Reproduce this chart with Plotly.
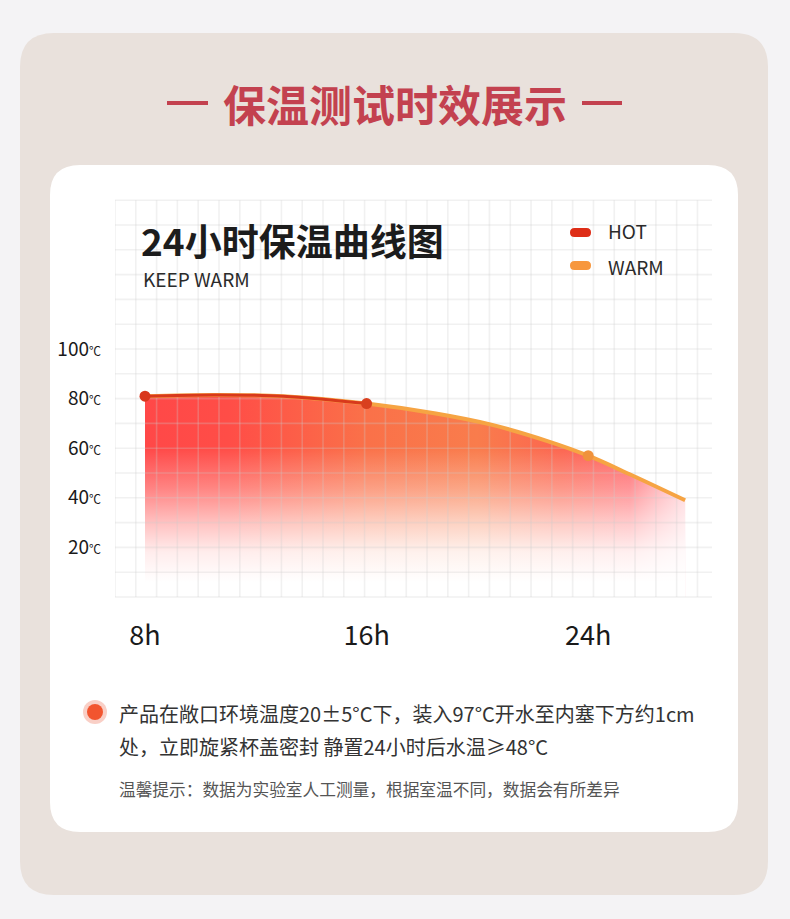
import plotly.graph_objects as go

# ---------------- data ----------------
hours = [8, 10.5, 13, 16, 18.5, 20.5, 22.5, 24, 25.5, 27.5]
temps = [81, 81.5, 81, 78, 74, 69.5, 63, 57, 49.5, 39]
hot_hours = [8, 10.5, 13, 16]
hot_temps = [81, 81.5, 81, 78]
marker_hours = [8, 16, 24]
marker_temps = [81, 78, 57]
marker_colors = ['#d9381e', '#d9401f', '#f0923c']
x_tick_vals = [8, 16, 24]
x_tick_text = ['8h', '16h', '24h']
y_tick_vals = [20, 40, 60, 80, 100]
y_tick_text = [f"{v}<span style='font-size:12px'>℃</span>" for v in y_tick_vals]

# ---------------- page geometry ----------------
W, H = 790, 919
FONT = "Noto Sans CJK SC, Noto Sans, sans-serif"


def px(x):
    return x / W


def py(y):
    return 1 - y / H


X_RANGE = [6.917, 28.47]
Y_RANGE = [-1.2, 162.1]

fig = go.Figure()

# base fill: horizontal colour variation
fig.add_trace(go.Scatter(
    x=hours, y=temps, mode='lines',
    line=dict(shape='spline', width=0, color='rgba(0,0,0,0)'),
    fill='tozeroy',
    fillgradient=dict(type='horizontal', start=8, stop=27.5, colorscale=[
        [0.0, '#ff4848'],
        [0.154, '#ff4d47'],
        [0.41, '#fa7149'],
        [0.615, '#f97c4c'],
        [0.77, '#fc6650'],
        [0.897, 'rgba(255,85,90,0.92)'],
        [1.0, 'rgba(255,120,135,0.4)'],
    ]),
    hoverinfo='skip', showlegend=False))

# white vertical fade over the fill
fig.add_trace(go.Scatter(
    x=hours, y=temps, mode='lines',
    line=dict(shape='spline', width=0, color='rgba(0,0,0,0)'),
    fill='tozeroy',
    fillgradient=dict(type='vertical', start=0, stop=82, colorscale=[
        [0.0, 'rgba(255,255,255,1)'],
        [6 / 82, 'rgba(255,255,255,1)'],
        [18 / 82, 'rgba(255,255,255,0.9)'],
        [30 / 82, 'rgba(255,255,255,0.66)'],
        [44 / 82, 'rgba(255,255,255,0.32)'],
        [60 / 82, 'rgba(255,255,255,0)'],
        [1.0, 'rgba(255,255,255,0)'],
    ]),
    hoverinfo='skip', showlegend=False))

# grid drawn as a trace so it shows over the fill
gx, gy = [], []
k = 0
while True:
    xv = 6.917 + 0.751 * k
    if xv > X_RANGE[1]:
        break
    gx += [xv, xv, None]
    gy += [0, 160, None]
    k += 1
for t in range(0, 161, 10):
    gx += [X_RANGE[0], X_RANGE[1], None]
    gy += [t, t, None]
fig.add_trace(go.Scatter(
    x=gx, y=gy, mode='lines',
    line=dict(color='rgba(205,205,205,0.28)', width=1.6),
    hoverinfo='skip', showlegend=False))

# lines
fig.add_trace(go.Scatter(
    x=hours, y=temps, mode='lines', name='WARM',
    line=dict(shape='spline', width=4, color='#f6a443'),
    showlegend=False))
fig.add_trace(go.Scatter(
    x=hot_hours, y=hot_temps, mode='lines', name='HOT',
    line=dict(shape='spline', width=3, color='#d8391c'),
    showlegend=False))
fig.add_trace(go.Scatter(
    x=marker_hours, y=marker_temps, mode='markers',
    marker=dict(size=11, color=marker_colors),
    showlegend=False))


def rrect(x0, y0, x1, y1, r):
    rx, ry = r / W, r / H
    X0, X1 = px(x0), px(x1)
    Y0, Y1 = py(y0), py(y1)  # Y0 top, Y1 bottom
    return (f"M{X0 + rx},{Y0} L{X1 - rx},{Y0} Q{X1},{Y0} {X1},{Y0 - ry} "
            f"L{X1},{Y1 + ry} Q{X1},{Y1} {X1 - rx},{Y1} "
            f"L{X0 + rx},{Y1} Q{X0},{Y1} {X0},{Y1 + ry} "
            f"L{X0},{Y0 - ry} Q{X0},{Y0} {X0 + rx},{Y0} Z")


shapes = [
    dict(type='path', path=rrect(20, 33, 768, 895, 34), xref='paper', yref='paper',
         fillcolor='#e9e1dc', line=dict(width=0), layer='below'),
    dict(type='path', path=rrect(50, 165, 738, 832, 30), xref='paper', yref='paper',
         fillcolor='#ffffff', line=dict(width=0), layer='below'),
    # title dashes
    dict(type='line', xref='paper', yref='paper', x0=px(167), x1=px(208), y0=py(103), y1=py(103),
         line=dict(color='#c3414f', width=4)),
    dict(type='line', xref='paper', yref='paper', x0=px(582), x1=px(622), y0=py(103), y1=py(103),
         line=dict(color='#c3414f', width=4)),
    # legend pills
    dict(type='path', path=rrect(570, 228, 591, 237, 4.5), xref='paper', yref='paper',
         fillcolor='#de2d17', line=dict(width=0)),
    dict(type='path', path=rrect(570, 261, 591, 270, 4.5), xref='paper', yref='paper',
         fillcolor='#f7973d', line=dict(width=0)),
    # bullet
    dict(type='circle', xref='paper', yref='paper', x0=px(83), x1=px(107), y0=py(724), y1=py(700),
         fillcolor='#f9cfc6', line=dict(width=0)),
    dict(type='circle', xref='paper', yref='paper', x0=px(87), x1=px(103), y0=py(720), y1=py(704),
         fillcolor='#f2552f', line=dict(width=0)),
]

annotations = [
    dict(text='<b>保温测试时效展示</b>', x=px(395), y=py(103), xanchor='center', yanchor='middle',
         font=dict(size=43, color='#c3414f', family=FONT)),
    dict(text='<b>24小时保温曲线图</b>', x=px(139), y=py(240), xanchor='left', yanchor='middle',
         font=dict(size=37, color='#1c1c1c', family=FONT)),
    dict(text='KEEP WARM', x=px(141), y=py(278), xanchor='left', yanchor='middle',
         font=dict(size=19, color='#2a2a2a', family=FONT)),
    dict(text='HOT', x=px(606), y=py(231), xanchor='left', yanchor='middle',
         font=dict(size=19, color='#2a2a2a', family=FONT)),
    dict(text='WARM', x=px(606), y=py(266), xanchor='left', yanchor='middle',
         font=dict(size=19, color='#2a2a2a', family=FONT)),
    dict(text='产品在敞口环境温度20±5°C下，装入97°C开水至内塞下方约1cm', x=px(117), y=py(713),
         xanchor='left', yanchor='middle', font=dict(size=20, color='#333333', family=FONT)),
    dict(text='处，立即旋紧杯盖密封 静置24小时后水温≥48°C', x=px(117), y=py(746),
         xanchor='left', yanchor='middle', font=dict(size=20, color='#333333', family=FONT)),
    dict(text='温馨提示：数据为实验室人工测量，根据室温不同，数据会有所差异', x=px(117), y=py(789),
         xanchor='left', yanchor='middle', font=dict(size=16.7, color='#555555', family=FONT)),
]
for a in annotations:
    a.update(xref='paper', yref='paper', showarrow=False)

fig.update_layout(
    width=W, height=H,
    margin=dict(l=0, r=0, t=0, b=0),
    paper_bgcolor='#f4f3f5',
    plot_bgcolor='rgba(0,0,0,0)',
    shapes=shapes,
    annotations=annotations,
    font=dict(family=FONT),
    xaxis=dict(domain=[px(115), px(712)], range=X_RANGE, showgrid=False, zeroline=False,
               showline=False, tickvals=x_tick_vals, ticktext=x_tick_text, ticks='',
               ticklabelstandoff=17, tickfont=dict(size=27, color='#1a1a1a', family=FONT),
               fixedrange=True),
    yaxis=dict(domain=[py(600), py(195)], range=Y_RANGE, showgrid=False, zeroline=False,
               showline=False, tickvals=y_tick_vals, ticktext=y_tick_text, ticks='',
               ticklabelstandoff=13, tickfont=dict(size=19, color='#1a1a1a', family=FONT),
               fixedrange=True),
)

fig.write_html("out.html")
